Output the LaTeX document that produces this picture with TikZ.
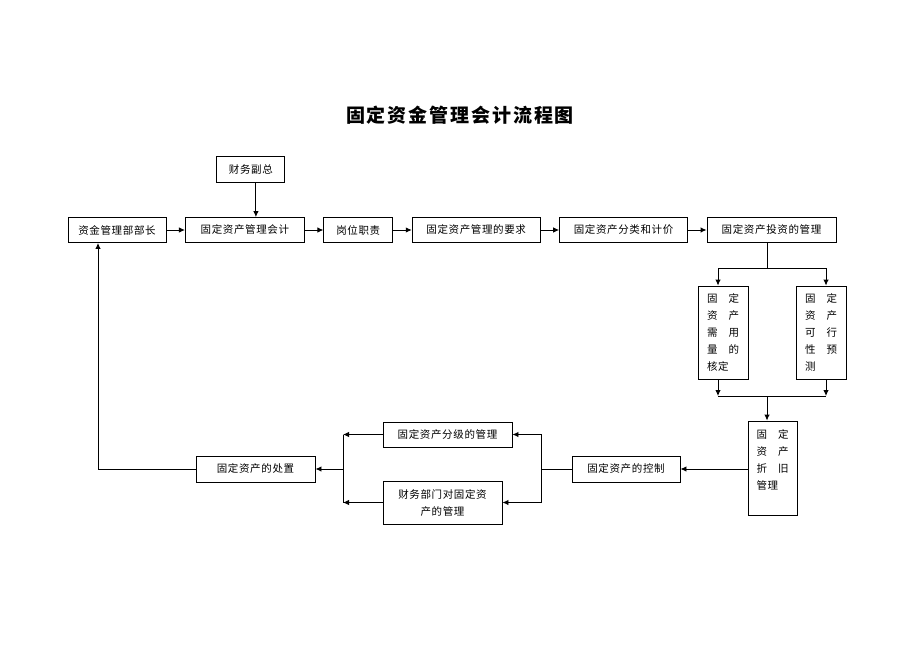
\documentclass[tikz,border=0pt]{standalone}
\usepackage{fontspec}
\newfontfamily\cjkbox[LetterSpace=6]{Noto Sans CJK SC}
\newfontfamily\cjktitle[LetterSpace=10]{Noto Sans CJK SC}
\usetikzlibrary{positioning}
\usetikzlibrary{arrows.meta}
\newcommand{\boxfont}{\cjkbox\fontsize{10.5}{17}\selectfont}
\tikzstyle{WhiteBody} = [fill=white, draw=black, line width=0.9pt, font=\boxfont]
\tikzstyle{FlowBox}   = [rectangle, minimum height=25pt, inner sep=2pt, text centered]
\tikzstyle{StackBox}  = [rectangle, minimum width=50pt, minimum height=93pt, inner sep=0pt, text width=32pt, align=left]
\tikzstyle{FlowLine}  = [line width=0.9pt]
\tikzstyle{FlowArrow} = [FlowLine, -{Latex[length=6pt,width=5.5pt]}]

\begin{document}
\begin{tikzpicture}[x=1pt, y=-1pt]

\useasboundingbox (0,0) rectangle (920,651);

\node (title) at (460,115) {\cjktitle\bfseries\fontsize{19}{19}\selectfont 固定资金管理会计流程图};

%% ---------------------------------------------------------------- [ Top row ]
\node (head) [FlowBox, WhiteBody, minimum width=98pt] at (117,230) {资金管理部部长};
\node (acct) [FlowBox, WhiteBody, minimum width=119pt,
              right=18.5pt of head] {固定资产管理会计};
\node (duty) [FlowBox, WhiteBody, minimum width=69pt,
              right=18.5pt of acct] {岗位职责};
\node (rule) [FlowBox, WhiteBody, minimum width=128pt,
              right=18.5pt of duty] {固定资产管理的要求};
\node (class) [FlowBox, WhiteBody, minimum width=128pt,
               right=18.5pt of rule] {固定资产分类和计价};
\node (inv) [FlowBox, WhiteBody, minimum width=129pt,
             right=18.5pt of class] {固定资产投资的管理};

\node (vp) [FlowBox, WhiteBody, minimum width=68pt, minimum height=26pt,
            above=34pt of acct, xshift=6pt] {财务副总};

\draw[FlowArrow] ([xshift=5pt]vp.south) -- ([xshift=5pt]vp.south |- acct.north);
\draw[FlowArrow] (head) -- (acct);
\draw[FlowArrow] (acct) -- (duty);
\draw[FlowArrow] (duty) -- (rule);
\draw[FlowArrow] (rule) -- (class);
\draw[FlowArrow] (class) -- (inv);

%% ---------------------------------------------------------------- [ Right column ]
\node (need) [StackBox, WhiteBody] at (723,332.5)
      {固\hfill 定\\资\hfill 产\\需\hfill 用\\量\hfill 的\\核定};
\node (feas) [StackBox, WhiteBody] at (821,332.5)
      {固\hfill 定\\资\hfill 产\\可\hfill 行\\性\hfill 预\\测};
\node (depr) [StackBox, WhiteBody, minimum width=49pt, minimum height=94pt] at (772.5,468) {};
\node (deprtext) [StackBox, minimum width=0pt, minimum height=0pt, font=\boxfont,
                  below=9pt of depr.north] {固\hfill 定\\资\hfill 产\\折\hfill 旧\\管理};

\coordinate (trunk) at (767,268);
\coordinate (splitL) at (718,268);
\coordinate (splitR) at (826,268);
\coordinate (joinL) at (718,396);
\coordinate (joinR) at (826,396);
\coordinate (merge) at (767,396);

\draw[FlowLine] (trunk |- inv.south) -- (trunk);
\draw[FlowLine] (splitL) -- (splitR);
\draw[FlowArrow] (splitL) -- (splitL |- need.north);
\draw[FlowArrow] (splitR) -- (splitR |- feas.north);
\draw[FlowArrow] (joinL |- need.south) -- (joinL);
\draw[FlowArrow] (joinR |- feas.south) -- (joinR);
\draw[FlowLine] (joinL) -- (joinR);
\draw[FlowArrow] (merge) -- (merge |- depr.north);

%% ---------------------------------------------------------------- [ Bottom row ]
\node (ctrl) [FlowBox, WhiteBody, minimum width=108pt, minimum height=26pt] at (626,469) {固定资产的控制};
\node (grade) [FlowBox, WhiteBody, minimum width=129pt] at (447.5,434.5) {固定资产分级的管理};
\node (fin) [FlowBox, WhiteBody, minimum width=119pt, minimum height=43pt, align=center]
      at (442.5,502.5) {财务部门对固定资\\产的管理};
\node (disp) [FlowBox, WhiteBody, minimum width=119pt, minimum height=26pt] at (255.5,469) {固定资产的处置};

\coordinate [left=30pt of ctrl.west] (rbus);
\coordinate (lbus) at (343,469);
\coordinate (ret) at (98,469);

\draw[FlowArrow] (depr.west |- ctrl) -- (ctrl.east);
\draw[FlowLine] (ctrl.west) -- (rbus);
\draw[FlowArrow] (rbus) |- (grade.east);
\draw[FlowArrow] (rbus) |- (fin.east);
\draw[FlowArrow] (grade.west) -- (lbus |- grade);
\draw[FlowArrow] (fin.west) -- (lbus |- fin);
\draw[FlowLine] (lbus |- grade) -- (lbus |- fin);
\draw[FlowArrow] (lbus) -- (disp.east);
\draw[FlowArrow] (disp.west) -- (ret) -- (ret |- head.south);

\end{tikzpicture}
\end{document}
